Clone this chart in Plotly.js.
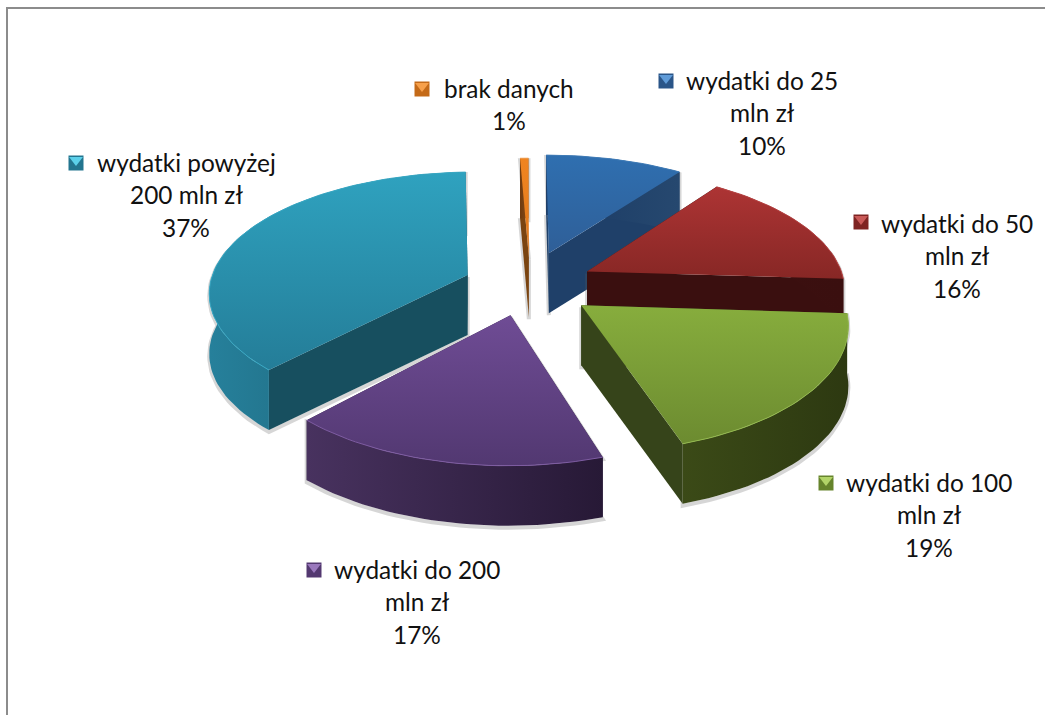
<!DOCTYPE html>
<html><head><meta charset="utf-8">
<script src="https://cdn.plot.ly/plotly-3.0.1.min.js"></script>
<style>html,body{margin:0;padding:0;background:#fff}#c{width:1045px;height:715px}</style>
</head><body><div id="c"></div>
<script>
// ---- data ----
const categories = ["wydatki do 25","wydatki do 50","wydatki do 100","wydatki do 200","wydatki powyżej","brak danych"];
const categoryEnds = ["mln zł","mln zł","mln zł","mln zł","200 mln zł",""];
const values = [10,16,19,17,37.4,0.6];

// ---- styles ----
const topColors  = [["#2f6fb0","#2f5f98"],["#ad3434","#872725"],["#87ad3d","#6c8b30"],["#6f4c95","#523871"],["#2fa2bf","#247d98"],["#f08420","#e07a1e"]];
const wallColors = [["#1a3a64","#26486f"],["#3d1010","#3a0f0f"],["#3b4a17","#2d3911"],["#48325f","#271936"],["#26809b","#1a5a6c"],["#6e3a0f","#8a4d18"]];
const radialWall = ["#1f4069","#3a0f0f","#36441a","#2b1c3c","#174f5f","#7a4410"];
const rimColors  = ["#3f7cb8","#b84444","#93b84e","#7e5ca2","#38a8c4","#f5a050"];
const keyDark    = ["#2a5588","#7e2422","#66842c","#533870","#23758f","#c46a18"];
const keyLight   = ["#5f9bd8","#c95a58","#b2d468","#9a78bd","#5cd0ea","#f7a04a"];
const keyPos   = [[666,81],[861,222],[826,483],[314,570],[76,163],[422,89]];
const labelPos = [[762,80],[957,223],[929,482],[417,569],[186,162],[509,88]];
const lineStep = 32.5;

// ---- projection ----
const cx=525, cy=285, A=258, B=120, kx=0.13, ky=0.14, depth=60;
const pull=[0.29,0.27,0.27,0.25,0.24,0.24], nudge=[0.006,0,0,0,0,0.02];
function project(u,v){return [cx+A*u/(1-kx*v),cy+B*v/(1-ky*v)];}
const total=values.reduce((a,b)=>a+b,0);
const traces=[], annotations=[];
function poly(pts,fill,gradient){
  const t={type:'scatter',mode:'lines',x:pts.map(p=>p[0]),y:pts.map(p=>p[1]),fill:'toself',hoverinfo:'skip',showlegend:false,
    line:{width:0,color:'rgba(0,0,0,0)'}};
  if(gradient) t.fillgradient=gradient; else t.fillcolor=fill;
  return t;
}
function grad(type,c0,c1){return {type:type,colorscale:[[0,c0],[1,c1]]};}
const geo=[]; let acc=0;
values.forEach((val,i)=>{
  const a0=acc/total*2*Math.PI; acc+=val; const a1=acc/total*2*Math.PI;
  const b=(a0+a1)/2, e=pull[i], ou=e*Math.sin(b)+nudge[i], ov=-e*Math.cos(b);
  const arc=[]; const n=Math.max(6,Math.round(val*2));
  for(let j=0;j<=n;j++){const t=a0+(a1-a0)*j/n; arc.push(project(ou+Math.sin(t),ov-Math.cos(t)));}
  geo.push({apex:project(ou,ov),arc});
});
const down=p=>[p[0],p[1]+depth];
[5,0,1,4,2,3].forEach(i=>{
  const {apex,arc}=geo[i];
  const first=arc[0], last=arc[arc.length-1];
  const wallOuter=[...arc,...arc.slice().reverse().map(down)];
  const silhouette=[apex,...arc,...arc.slice().reverse().map(down),down(apex),apex];
  traces.push({type:'scatter',mode:'lines',x:silhouette.map(p=>p[0]),y:silhouette.map(p=>p[1]+2),hoverinfo:'skip',showlegend:false,
     line:{width:4,color:'rgba(90,90,90,0.25)'}});
  traces.push(poly([apex,first,down(first),down(apex)],radialWall[i]));
  traces.push(poly([apex,last,down(last),down(apex)],radialWall[i]));
  traces.push(poly(wallOuter,null,grad('horizontal',wallColors[i][0],wallColors[i][1])));
  traces.push(poly([apex,...arc],null,grad('vertical',topColors[i][1],topColors[i][0])));
  traces.push({type:'scatter',mode:'lines',x:arc.map(p=>p[0]),y:arc.map(p=>p[1]),hoverinfo:'skip',showlegend:false,line:{width:1,color:rimColors[i]}});
});
// ---- keys and labels ----
values.forEach((val,i)=>{
  traces.push({type:'scatter',mode:'markers',x:[keyPos[i][0]],y:[keyPos[i][1]],hoverinfo:'skip',showlegend:false,
    marker:{symbol:'square',size:15,color:keyDark[i],line:{width:0}}});
  traces.push({type:'scatter',mode:'markers',x:[keyPos[i][0]],y:[keyPos[i][1]-3],hoverinfo:'skip',showlegend:false,
    marker:{symbol:'triangle-down',size:12,color:keyLight[i],line:{width:0}}});
  const lines=[categories[i]]; if(categoryEnds[i]) lines.push(categoryEnds[i]); lines.push(Math.round(val)+'%');
  lines.forEach((txt,j)=>annotations.push({x:labelPos[i][0],y:labelPos[i][1]+j*lineStep,xref:'x',yref:'y',text:txt,showarrow:false,align:'center',
    xanchor:'center',yanchor:'middle',font:{family:'Lato, sans-serif',size:24.4,color:'#111'}}));
});
const layout={width:1045,height:715,margin:{l:0,r:0,t:0,b:0},paper_bgcolor:'#fff',plot_bgcolor:'#fff',showlegend:false,
  xaxis:{range:[0,1045],visible:false,fixedrange:true},
  yaxis:{range:[715,0],visible:false,fixedrange:true},
  annotations,
  shapes:[{type:'line',xref:'x',yref:'y',x0:7,x1:1045,y0:8,y1:8,line:{color:'#8c8c8c',width:2}},
          {type:'line',xref:'x',yref:'y',x0:7,x1:7,y0:7,y1:715,line:{color:'#8c8c8c',width:2}}]};
Plotly.newPlot('c',traces,layout,{displayModeBar:false,staticPlot:true});
</script></body></html>
